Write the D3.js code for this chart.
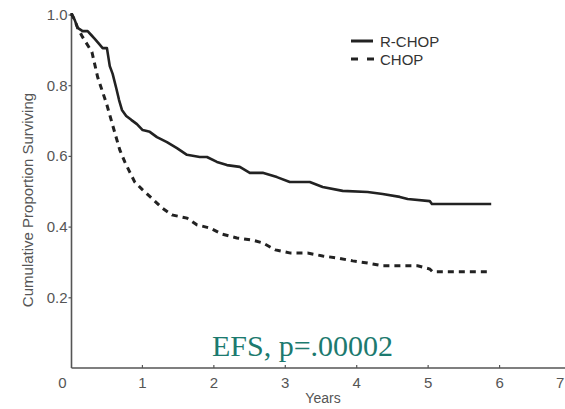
<!DOCTYPE html>
<html><head><meta charset="utf-8">
<script src="https://cdn.jsdelivr.net/npm/d3@7"></script>
<style>body{margin:0;background:#fff}svg{display:block}</style>
</head><body><svg id="c" width="565" height="409"></svg>
<script>
const seriesNames = ["R-CHOP", "CHOP"];
const rchopT = [0,0.02,0.06,0.10,0.17,0.24,0.29,0.34,0.40,0.45,0.51,0.55,0.59,0.64,0.68,0.72,0.78,0.85,0.93,1.01,1.11,1.21,1.35,1.49,1.63,1.81,1.91,2.05,2.19,2.37,2.51,2.69,2.89,3.07,3.35,3.53,3.81,4.16,4.37,4.61,4.72,5.03,5.06,5.89];
const rchopV = [1.0,1.0,0.984,0.962,0.953,0.953,0.942,0.931,0.917,0.905,0.905,0.854,0.832,0.792,0.758,0.730,0.713,0.702,0.690,0.673,0.668,0.653,0.639,0.622,0.603,0.597,0.597,0.583,0.574,0.569,0.552,0.552,0.540,0.526,0.526,0.512,0.501,0.498,0.492,0.484,0.478,0.472,0.464,0.464];
const chopT = [0,0.02,0.06,0.10,0.17,0.30,0.38,0.51,0.59,0.69,0.76,0.83,0.90,1.01,1.15,1.28,1.42,1.63,1.77,1.95,2.12,2.33,2.54,2.69,2.87,3.08,3.32,3.53,3.74,3.95,4.16,4.37,4.86,5.03,5.07,5.85];
const chopV = [1.0,1.0,0.984,0.962,0.936,0.894,0.823,0.744,0.687,0.617,0.583,0.554,0.526,0.504,0.478,0.453,0.433,0.424,0.405,0.396,0.379,0.368,0.362,0.354,0.334,0.325,0.325,0.317,0.311,0.303,0.297,0.289,0.289,0.280,0.272,0.272];
const xTicks = [0,1,2,3,4,5,6,7];
const yTicks = [0.2,0.4,0.6,0.8,1.0];
const annotation = "EFS, p=.00002";
const xTitle = "Years";
const yTitle = "Cumulative Proportion Surviving";

const svg = d3.select("#c");
const x = d3.scaleLinear().domain([0,7]).range([70.5,570.5]);
const y = d3.scaleLinear().domain([0,1]).range([368,14.5]);
const grey = "#555";
const font = "Liberation Sans, Arial, sans-serif";

// axes
const xa = svg.append("g").attr("transform","translate(0,368)")
  .call(d3.axisBottom(x).tickValues(xTicks).tickSizeInner(-3).tickSizeOuter(0).tickPadding(9).tickFormat(d3.format("d")));
xa.select(".domain").attr("d","M71.5,0H565");
const ya = svg.append("g").attr("transform","translate(71.5,0)")
  .call(d3.axisLeft(y).tickValues(yTicks).tickSizeInner(3).tickSizeOuter(0).tickPadding(1).tickFormat(d3.format(".1f")));
ya.select(".domain").attr("d","M0,14H0V368");
[xa,ya].forEach(a=>{
  a.selectAll(".domain").attr("stroke",grey).attr("stroke-width",1.6);
  a.selectAll(".tick line").attr("stroke",grey).attr("stroke-width",1.2);
  a.selectAll(".tick text").attr("fill",grey).attr("font-family",font).attr("font-size",15);
});
xa.selectAll(".tick").filter(d=>d===0).select("text").attr("x",-8.5);
xa.selectAll(".tick").filter(d=>d===0).select("line").remove();
xa.selectAll(".tick").filter(d=>d===7).select("text").attr("x",-15).attr("text-anchor","start");

svg.append("text").attr("x",323).attr("y",403).attr("text-anchor","middle")
  .attr("fill",grey).attr("font-family",font).attr("font-size",14).text(xTitle);
svg.append("text").attr("transform","translate(33,200) rotate(-90)").attr("text-anchor","middle")
  .attr("fill",grey).attr("font-family",font).attr("font-size",15).text(yTitle);

// curves
const line = d3.line().x(d=>x(d[0])).y(d=>y(d[1]));
const chop = chopT.map((t,i)=>[t,chopV[i]]);
const rchop = rchopT.map((t,i)=>[t,rchopV[i]]);
svg.append("path").attr("d",line(chop)).attr("fill","none").attr("stroke","#222")
  .attr("stroke-width",3).attr("stroke-dasharray","6,5");
svg.append("path").attr("d",line(rchop)).attr("fill","none").attr("stroke","#222")
  .attr("stroke-width",2.6).attr("stroke-linejoin","round");

// legend
const lg = svg.append("g");
lg.append("line").attr("x1",351).attr("x2",373).attr("y1",41).attr("y2",41).attr("stroke","#222").attr("stroke-width",3);
lg.append("line").attr("x1",351).attr("x2",374).attr("y1",59).attr("y2",59).attr("stroke","#222").attr("stroke-width",3).attr("stroke-dasharray","7,9");
lg.append("text").attr("x",380).attr("y",46.5).attr("fill","#333").attr("font-family",font).attr("font-size",15).text(seriesNames[0]);
lg.append("text").attr("x",380).attr("y",64.5).attr("fill","#333").attr("font-family",font).attr("font-size",15).text(seriesNames[1]);

// annotation
svg.append("text").attr("x",212).attr("y",356).attr("fill","#1c7a6f")
  .attr("font-family","Liberation Serif, Times New Roman, serif").attr("font-size",30).text(annotation);
</script></body></html>
